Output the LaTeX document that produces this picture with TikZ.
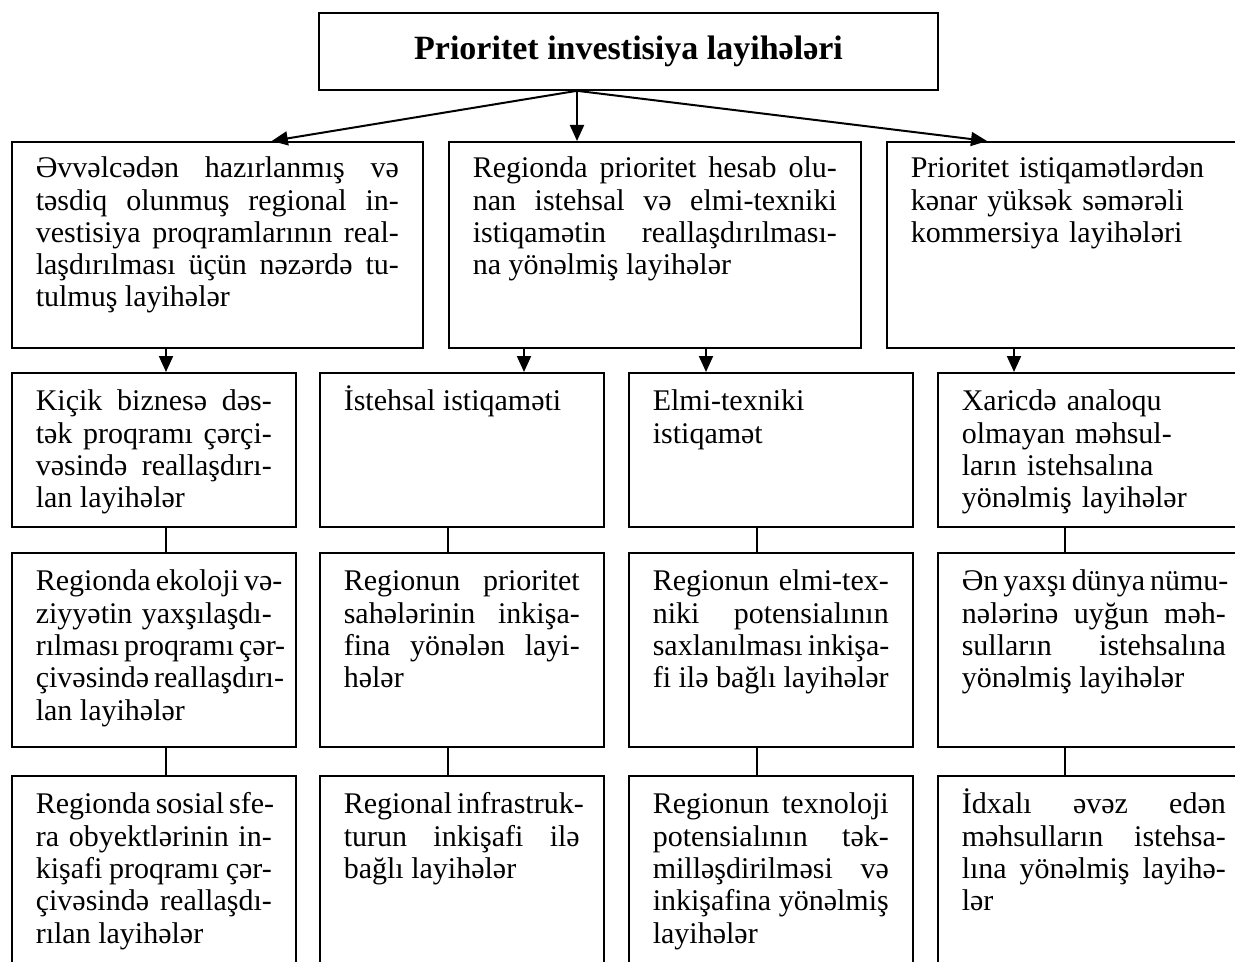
\documentclass[tikz,border=0pt]{standalone}
\usepackage{fontspec}
\setmainfont{Liberation Serif}
\usetikzlibrary{arrows.meta}
\tolerance=9999
\hbadness=10000
\hfuzz=20pt
\hyphenpenalty=10000
\exhyphenpenalty=10000
\tikzset{box/.style={draw,line width=0.8pt,anchor=north west,inner xsep=12pt,inner ysep=7pt,text height=12pt,font=\fontsize{15}{16.15}\selectfont,align=justify}}
\tikzset{lvla/.style={box,inner ysep=6pt,text depth=79pt},lvlb/.style={box,text depth=51pt},lvlc/.style={box,text depth=71pt},lvld/.style={box,text depth=100pt}}
\tikzset{col/.style={text width=118pt},wide/.style={text width=132pt}}
\tikzset{arr/.style={-{Triangle[length=8pt,width=7pt]},line width=1pt},link/.style={line width=0.7pt}}

\begin{document}
\begin{tikzpicture}[x=0.5pt,y=-0.5pt]
\useasboundingbox (0,0) rectangle (1235,962);
\clip (0,0) rectangle (1235,962);
\node (title) [draw,line width=0.8pt,minimum width=309.5pt,minimum height=38.5pt,inner sep=0pt,font=\fontsize{17}{20}\selectfont\bfseries] at (628.5,51.5) {Prioritet investisiya layihələri};
%
\node (a) [lvla,text width=181.5pt] at (11,141) {Əvvəlcədən~hazırlanmış~və\linebreak təsdiq~olunmuş~regional~in-\linebreak vestisiya~proqramlarının~real-\linebreak laşdırılması~üçün~nəzərdə~tu-\linebreak tulmuş~layihələr};
\node (b) [lvla,text width=182pt] at (448,141) {Regionda~prioritet~hesab~olu-\linebreak nan~istehsal~və~elmi-texniki\linebreak istiqamətin~reallaşdırılması-\linebreak na~yönəlmiş~layihələr};
\node (c) [lvla,text width=190pt,align=left] at (886,141) {Prioritet istiqamətlərdən\\kənar yüksək səmərəli\\kommersiya layihələri};
%
\node (k1) [lvlb,col] at (11,372) {Kiçik~biznesə~dəs-\linebreak tək~proqramı~çərçi-\linebreak vəsində~reallaşdırı-\linebreak lan~layihələr};
\node (k2) [lvlb,col] at (319,372) {İstehsal istiqaməti};
\node (k3) [lvlb,col,align=left] at (628,372) {Elmi-texniki\\istiqamət};
\node (k4) [lvlb,wide,align=left] at (937,372) {Xaricdə analoqu\\olmayan məhsul-\\ların istehsalına\\yönəlmiş layihələr};
%
\node (r1) [lvlc,col] at (11,552) {Regionda~ekoloji~və-\linebreak ziyyətin~yaxşılaşdı-\linebreak rılması~proqramı~çər-\linebreak çivəsində~reallaşdırı-\linebreak lan~layihələr};
\node (r2) [lvlc,col] at (319,552) {Regionun~prioritet\linebreak sahələrinin~inkişa-\linebreak fina~yönələn~layi-\linebreak hələr};
\node (r3) [lvlc,col] at (628,552) {Regionun~elmi-tex-\linebreak niki~potensialının\linebreak saxlanılması~inkişa-\linebreak fi~ilə~bağlı~layihələr};
\node (r4) [lvlc,wide] at (937,552) {Ən~yaxşı~dünya~nümu-\linebreak nələrinə~uyğun~məh-\linebreak sulların~istehsalına\linebreak yönəlmiş~layihələr};
%
\node (s1) [lvld,col] at (11,775) {Regionda~sosial~sfe-\linebreak ra~obyektlərinin~in-\linebreak kişafi~proqramı~çər-\linebreak çivəsində~reallaşdı-\linebreak rılan~layihələr};
\node (s2) [lvld,col] at (319,775) {Regional~infrastruk-\linebreak turun~inkişafi~ilə\linebreak bağlı~layihələr};
\node (s3) [lvld,col] at (628,775) {Regionun~texnoloji\linebreak potensialının~tək-\linebreak milləşdirilməsi~və\linebreak inkişafina~yönəlmiş\linebreak layihələr};
\node (s4) [lvld,wide] at (937,775) {İdxalı~əvəz~edən\linebreak məhsulların~istehsa-\linebreak lına~yönəlmiş~layihə-\linebreak lər};
%
\coordinate (fork) at ([xshift=-25.75pt]title.south);
\draw[arr] (fork) -- ([xshift=27.25pt]a.north);
\draw[arr] (fork) -- (fork |- b.north);
\draw[arr] (fork) -- ([xshift=50.5pt]c.north west);
%
\draw[arr] ([xshift=77.5pt]a.south west) -- ([xshift=77.5pt]k1.north west);
\draw[arr] ([xshift=38pt]b.south west) -- ([xshift=102.5pt]k2.north west);
\draw[arr] ([xshift=129pt]b.south west) -- ([xshift=39pt]k3.north west);
\draw[arr] ([xshift=64pt]c.south west) -- ([xshift=38.5pt]k4.north west);
%
\draw[link] ([xshift=77.5pt]k1.south west) -- ([xshift=77.5pt]r1.north west);
\draw[link] ([xshift=77.5pt]r1.south west) -- ([xshift=77.5pt]s1.north west);
\draw[link] ([xshift=64.5pt]k2.south west) -- ([xshift=64.5pt]r2.north west);
\draw[link] ([xshift=64.5pt]r2.south west) -- ([xshift=64.5pt]s2.north west);
\draw[link] ([xshift=64.5pt]k3.south west) -- ([xshift=64.5pt]r3.north west);
\draw[link] ([xshift=64.5pt]r3.south west) -- ([xshift=64.5pt]s3.north west);
\draw[link] ([xshift=64pt]k4.south west) -- ([xshift=64pt]r4.north west);
\draw[link] ([xshift=64pt]r4.south west) -- ([xshift=64pt]s4.north west);
\end{tikzpicture}
\end{document}
